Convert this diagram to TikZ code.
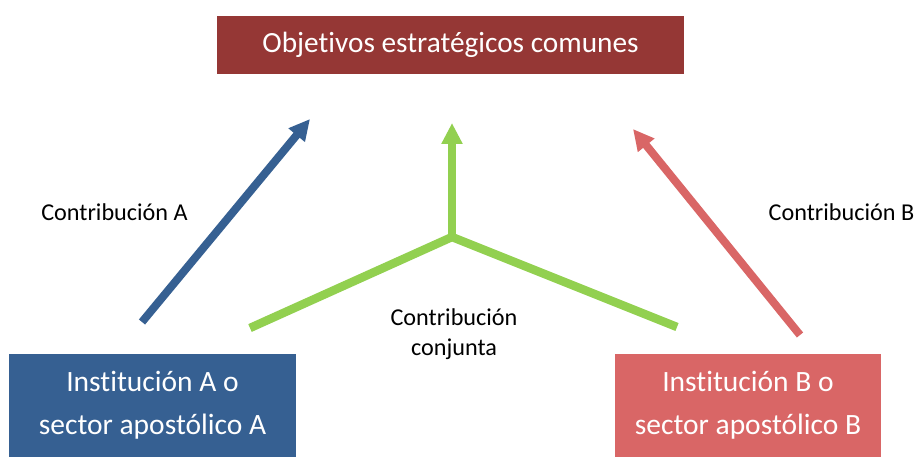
\documentclass[tikz,border=0pt]{standalone}
\usepackage{fontspec}
\setmainfont{Carlito}[Ligatures=CommonOff]
\usetikzlibrary{arrows.meta,positioning}

\definecolor{goalred}{RGB}{149,55,53}
\definecolor{instblue}{RGB}{54,96,146}
\definecolor{instred}{RGB}{217,102,102}
\definecolor{jointgreen}{RGB}{146,208,80}

\begin{document}
\begin{tikzpicture}[x=1pt,y=-1pt,
    box/.style={text=white,inner sep=0pt,align=center,font=\fontsize{29.5}{43}\selectfont},
    contrib/.style={line width=8pt,-{Triangle[length=21pt,width=20pt]}},
    lbl/.style={inner sep=0pt,align=center,font=\fontsize{24.2}{30}\selectfont}]
  \useasboundingbox (0,0) rectangle (917,457);
  % boxes
  \node[box,fill=goalred,minimum width=467pt,minimum height=58pt,
        font=\fontsize{29.3}{36}\selectfont] (goal) at (450.5,45) {Objetivos estratégicos comunes};
  \node[box,fill=instblue,minimum width=287pt,minimum height=103pt] (inst_a) at (152.5,405.5) {Institución A o\\sector apostólico A};
  \node[box,fill=instred,minimum width=266pt,minimum height=103pt] (inst_b) at (748,405.5) {Institución B o\\sector apostólico B};
  % arrow ends
  \coordinate (a_from) at (142,322);
  \coordinate (a_to) at (310,119);
  \coordinate (b_from) at (800,335);
  \coordinate (b_to) at (633,129);
  \coordinate (j_left) at (250,328);
  \coordinate (j_mid) at (452,237);
  \coordinate (j_right) at (677,327);
  \coordinate (j_to) at (452,123);
  % contributions
  \draw[contrib,instblue] (a_from) -- (a_to);
  \draw[contrib,instred] (b_from) -- (b_to);
  \draw[jointgreen,line width=8.5pt] (j_left) -- (j_mid) -- (j_right);
  \draw[contrib,jointgreen,line width=8.5pt] (j_mid) -- (j_to);
  % labels
  \node[lbl] (lbl_a) at (114.5,212) {Contribución A};
  \node[lbl] (lbl_b) at (841.5,212) {Contribución B};
  \node[lbl] (lbl_j) at (454,334) {Contribución\\conjunta};
\end{tikzpicture}
\end{document}
